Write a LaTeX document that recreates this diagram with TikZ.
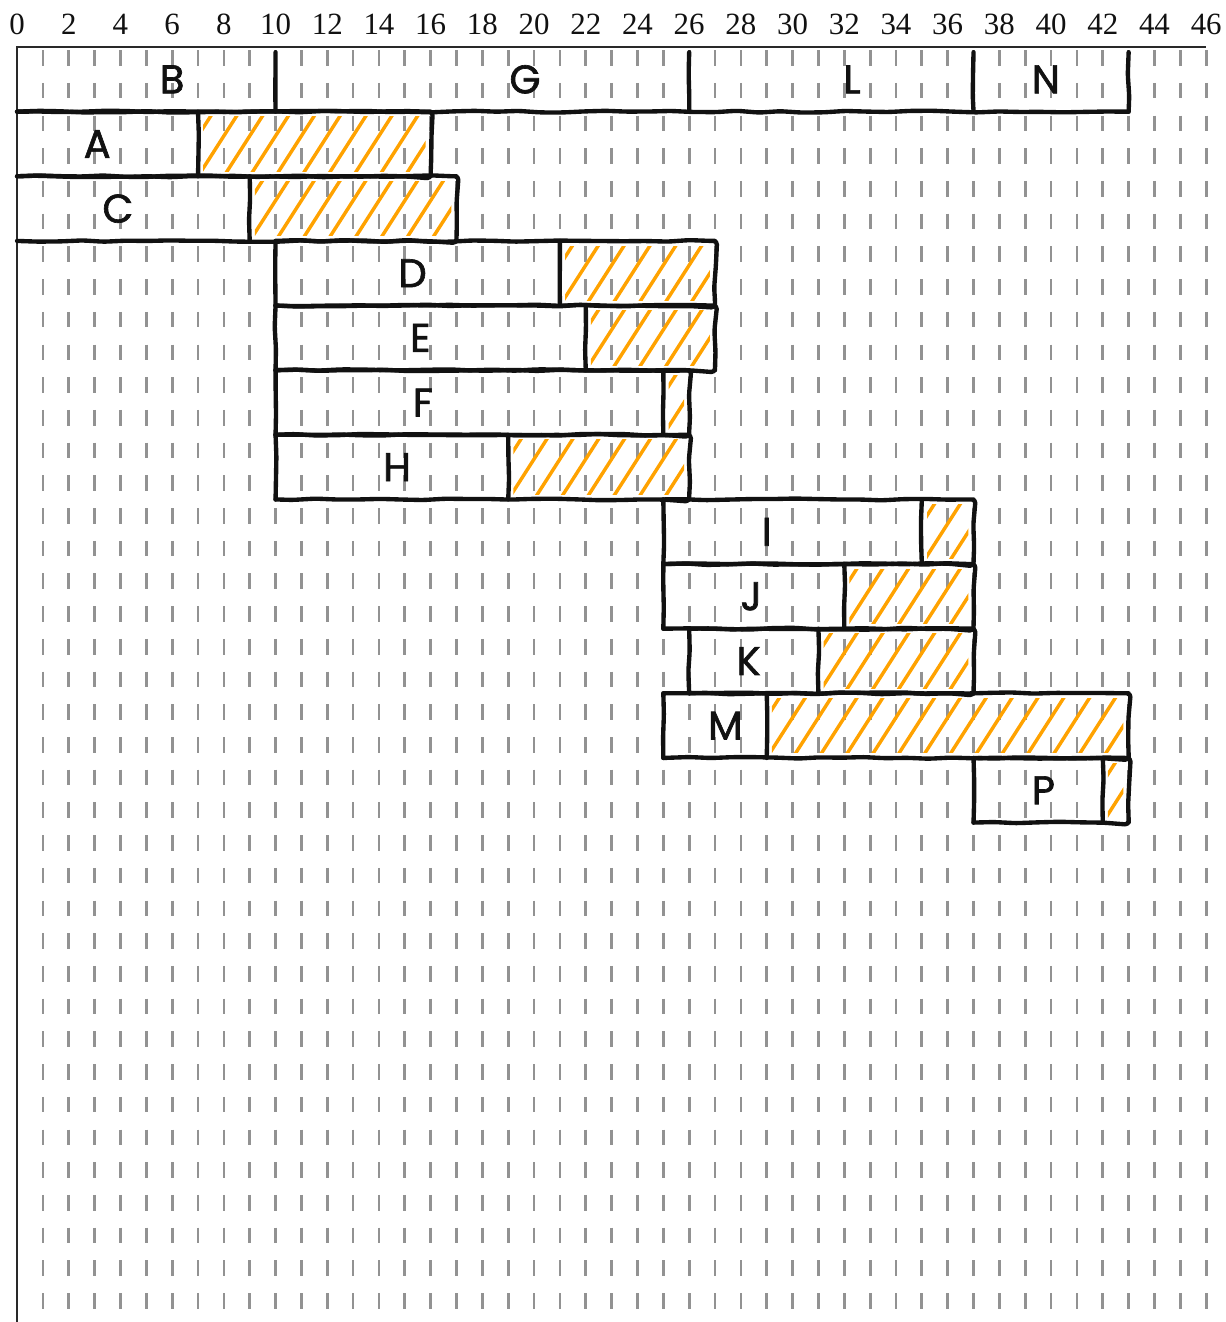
\documentclass[tikz,border=0pt]{standalone}
\usepackage{fontspec}
\newfontfamily\handfont[FakeBold=1.6]{Poppins}
\newfontfamily\numfont{Liberation Serif}
\usetikzlibrary{calc, decorations.pathmorphing}
\definecolor{ganttink}{HTML}{111111}
\definecolor{gantthatch}{HTML}{FFA200}
\definecolor{ganttgrid}{HTML}{929292}
\tikzset{
  bar/.style={draw=ganttink, line width=2.4pt, line cap=round, line join=round,
              decorate, decoration={random steps, segment length=12pt, amplitude=0.5pt},
              rounded corners=2pt},
  slack/.style={draw=gantthatch, line width=1.9pt, line cap=round},
  gridln/.style={draw=ganttgrid, line width=1.5pt, dash pattern=on 8.6pt off 9.4pt},
  axisln/.style={draw=ganttink!90, line width=1.3pt},
  lbl/.style={font=\handfont\fontsize{22}{22}\selectfont, inner sep=0pt, text=ganttink},
  num/.style={font=\numfont\fontsize{17}{17}\selectfont, inner sep=0pt, text=ganttink},
}
\pgfmathsetseed{7}
\begin{document}
\begin{tikzpicture}[x=0.5cm, y=0.5cm]
  \useasboundingbox (-0.66,-49.32) rectangle (46.73,1.82);
  % time grid and axes
  \foreach \g in {1,...,46} \draw[gridln] (\g,-0.12) -- (\g,-49.32);
  \draw[axisln] (0,-49.32) -- (0,0) -- (46,0);
  \foreach \v in {0,2,...,46} \node[num] (n\v) at (\v,0.89) {\v};

  % phases
  \draw[bar] (0,-2.5) -- (43,-2.5);
  \foreach \p in {10,26,37,43} \draw[bar] (\p,-0.2) -- (\p,-2.5);
  \node[lbl] (B) at (6.0,-1.25) {B};
  \node[lbl] (G) at (19.65,-1.25) {G};
  \node[lbl] (L) at (32.3,-1.25) {L};
  \node[lbl] (N) at (39.8,-1.25) {N};

  % activities: row/start/slack/end/name/label x
  \foreach \r/\s/\k/\e/\n/\lx in {1/0/7/16/A/3.1, 2/0/9/17/C/3.9, 3/10/21/27/D/15.3,
      4/10/22/27/E/15.6, 5/10/25/26/F/15.7, 6/10/19/26/H/14.7, 7/25/35/37/I/29.0,
      8/25/32/37/J/28.4, 9/26/31/37/K/28.3, 10/25/29/43/M/27.4, 11/37/42/43/P/39.7} {
    \pgfmathsetmacro\t{-2.5*\r}
    \pgfmathsetmacro\b{-2.5*\r-2.5}
    \begin{scope}
      \clip (\k+0.2,\t-0.2) rectangle (\e-0.2,\b+0.2);
      \foreach \h in {-3,-2,...,18} \draw[slack] (\k+\h,\b) -- ++(1.6,2.5);
    \end{scope}
    \draw[bar] (\s,\t) -- (\e,\t) -- (\e,\b) -- (\s,\b);
    \ifnum\s>0 \draw[bar] (\s,\t) -- (\s,\b); \fi
    \draw[bar] (\k,\t) -- (\k,\b);
    \node[lbl] (\n) at (\lx,\b+1.25) {\n};
  }
\end{tikzpicture}
\end{document}
